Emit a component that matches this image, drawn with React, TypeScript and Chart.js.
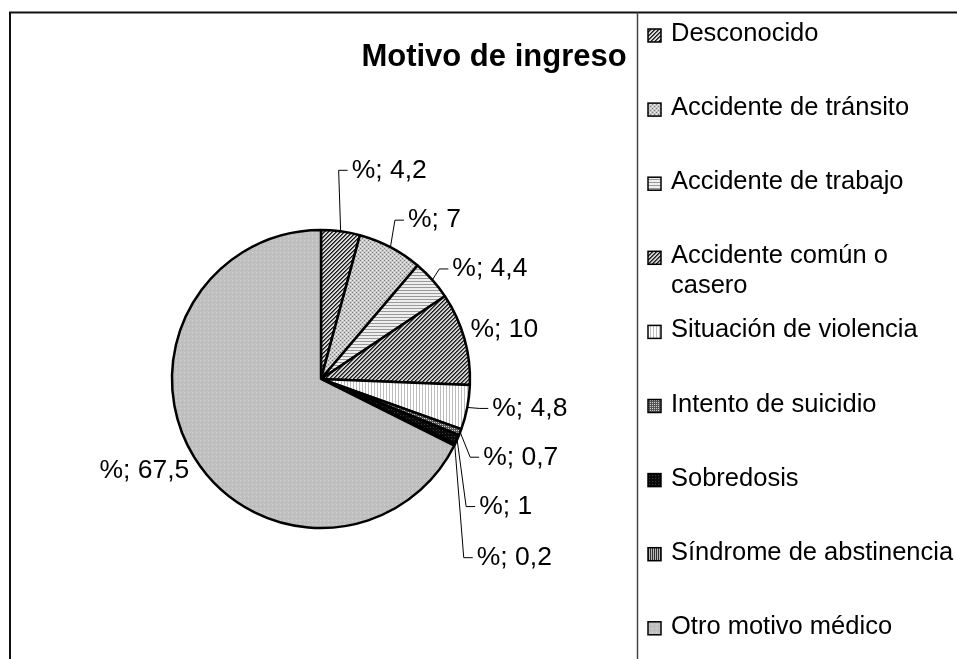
import React, { useEffect, useRef } from 'react';
import { Chart, registerables } from 'chart.js';

Chart.register(...registerables);

// ---- data ----
const TITLE = 'Motivo de ingreso';
const CATEGORIES = [
  'Desconocido',
  'Accidente de tránsito',
  'Accidente de trabajo',
  'Accidente común o casero',
  'Situación de violencia',
  'Intento de suicidio',
  'Sobredosis',
  'Síndrome de abstinencia',
  'Otro motivo médico',
];
const VALUES = [4.2, 7, 4.4, 10, 4.8, 0.7, 1, 0.2, 67.5];
const SERIES_NAME = '%';

// ---- layout / style (not data) ----
const FONT = "'Liberation Sans', Arial, Helvetica, sans-serif";
const PATTERN_KINDS = ['diag', 'dotsLight', 'hLines', 'diag2', 'vLinesLight', 'dotsDark', 'black', 'vStripes', 'gray'];
// offsets of label (x, centre y) from the slice's outer mid-point
const LABEL_OFFSETS: [number, number][] = [
  [11, -61], [17.5, -27], [20, -11], [6, -9], [25, 1], [23, 25], [22, 67], [22, 113], [-5, 13],
];
const LABEL_LEADER = [true, true, true, false, true, true, true, true, false];
const LABEL_ALIGN = ['left', 'left', 'left', 'left', 'left', 'left', 'left', 'left', 'right'];

function makePattern(kind: string): CanvasPattern | string {
  const c = document.createElement('canvas');
  const px = (ctx: CanvasRenderingContext2D, x: number, y: number, col: string) => {
    ctx.fillStyle = col;
    ctx.fillRect(x, y, 1, 1);
  };
  let ctx: CanvasRenderingContext2D;
  switch (kind) {
    case 'diag':
    case 'diag2': {
      c.width = 4; c.height = 4;
      ctx = c.getContext('2d')!;
      ctx.fillStyle = kind === 'diag' ? '#d8d8d8' : '#cfcfcf';
      ctx.fillRect(0, 0, 4, 4);
      for (let i = 0; i < 4; i++) {
        px(ctx, i, 3 - i, '#1a1a1a');
        px(ctx, i, (4 - i) % 4, '#5a5a5a');
      }
      break;
    }
    case 'dotsLight': {
      c.width = 4; c.height = 4;
      ctx = c.getContext('2d')!;
      ctx.fillStyle = '#c8c8c8';
      ctx.fillRect(0, 0, 4, 4);
      px(ctx, 0, 0, '#7a7a7a'); px(ctx, 2, 2, '#7a7a7a');
      px(ctx, 2, 0, '#f0f0f0'); px(ctx, 0, 2, '#f0f0f0');
      break;
    }
    case 'hLines': {
      c.width = 2; c.height = 3;
      ctx = c.getContext('2d')!;
      ctx.fillStyle = '#eeeeee';
      ctx.fillRect(0, 0, 2, 3);
      ctx.fillStyle = '#999999';
      ctx.fillRect(0, 2, 2, 1);
      break;
    }
    case 'vLinesLight': {
      c.width = 3; c.height = 2;
      ctx = c.getContext('2d')!;
      ctx.fillStyle = '#ffffff';
      ctx.fillRect(0, 0, 3, 2);
      ctx.fillStyle = '#bdbdbd';
      ctx.fillRect(2, 0, 1, 2);
      break;
    }
    case 'dotsDark': {
      c.width = 2; c.height = 2;
      ctx = c.getContext('2d')!;
      ctx.fillStyle = '#555';
      ctx.fillRect(0, 0, 2, 2);
      px(ctx, 0, 0, '#cfcfcf');
      break;
    }
    case 'black': {
      c.width = 3; c.height = 3;
      ctx = c.getContext('2d')!;
      ctx.fillStyle = '#0a0a0a';
      ctx.fillRect(0, 0, 3, 3);
      px(ctx, 1, 1, '#3a3a3a');
      break;
    }
    case 'vStripes': {
      c.width = 2; c.height = 2;
      ctx = c.getContext('2d')!;
      ctx.fillStyle = '#bbbbbb';
      ctx.fillRect(0, 0, 2, 2);
      ctx.fillStyle = '#333';
      ctx.fillRect(0, 0, 1, 2);
      break;
    }
    default: {
      c.width = 4; c.height = 4;
      ctx = c.getContext('2d')!;
      ctx.fillStyle = '#c0c0c0';
      ctx.fillRect(0, 0, 4, 4);
      px(ctx, 0, 0, '#d4d4d4');
      px(ctx, 2, 2, '#b2b2b2');
      break;
    }
  }
  const main = document.createElement('canvas').getContext('2d')!;
  return main.createPattern(c, 'repeat') || '#c0c0c0';
}

function fmt(v: number) {
  return String(v).replace('.', ',');
}

function wrapText(ctx: CanvasRenderingContext2D, text: string, maxW: number) {
  const words = text.split(' ');
  const lines: string[] = [];
  let cur = '';
  for (const w of words) {
    const t = cur ? cur + ' ' + w : w;
    if (ctx.measureText(t).width > maxW && cur) {
      lines.push(cur);
      cur = w;
    } else cur = t;
  }
  if (cur) lines.push(cur);
  return lines;
}

const decorPlugin = {
  id: 'decor',
  afterDraw(chart: any) {
    const ctx: CanvasRenderingContext2D = chart.ctx;
    const W = chart.width;
    const H = chart.height;
    ctx.save();

    // outer frame (top + left)
    ctx.strokeStyle = '#111';
    ctx.lineWidth = 2;
    ctx.beginPath();
    ctx.moveTo(10, H + 5);
    ctx.lineTo(10, 12.5);
    ctx.lineTo(W + 5, 12.5);
    ctx.stroke();

    // legend box left border
    ctx.strokeStyle = '#444';
    ctx.lineWidth = 1.5;
    ctx.beginPath();
    ctx.moveTo(637.5, 12.5);
    ctx.lineTo(637.5, H + 5);
    ctx.stroke();

    // title
    ctx.fillStyle = '#000';
    ctx.font = `bold 31px ${FONT}`;
    ctx.textAlign = 'center';
    ctx.textBaseline = 'middle';
    ctx.fillText(TITLE, 494, 57);

    // legend
    const bg = chart.data.datasets[0].backgroundColor;
    ctx.font = `25.5px ${FONT}`;
    ctx.textAlign = 'left';
    chart.data.labels.forEach((lab: string, i: number) => {
      const cy = 34 + i * 74.1;
      ctx.fillStyle = bg[i];
      ctx.fillRect(648, cy - 5, 13, 13);
      ctx.strokeStyle = '#000';
      ctx.lineWidth = 1.5;
      ctx.strokeRect(648, cy - 5, 13, 13);
      ctx.fillStyle = '#000';
      const lines = wrapText(ctx, lab, 288);
      lines.forEach((ln, k) => ctx.fillText(ln, 671, cy + k * 30));
    });

    // data labels with leader lines
    const meta = chart.getDatasetMeta(0);
    const vals = chart.data.datasets[0].data;
    ctx.font = `26.5px ${FONT}`;
    meta.data.forEach((arc: any, i: number) => {
      const p = arc.getProps(['x', 'y', 'startAngle', 'endAngle', 'outerRadius'], true);
      const mid = (p.startAngle + p.endAngle) / 2;
      const ex = p.x + Math.cos(mid) * p.outerRadius;
      const ey = p.y + Math.sin(mid) * p.outerRadius;
      const [dx, dy] = LABEL_OFFSETS[i];
      const tx = ex + dx;
      const ty = ey + dy;
      if (LABEL_LEADER[i]) {
        ctx.strokeStyle = '#000';
        ctx.lineWidth = 1;
        ctx.beginPath();
        ctx.moveTo(ex, ey);
        ctx.lineTo(tx - 13, ty);
        ctx.lineTo(tx - 4, ty);
        ctx.stroke();
      }
      ctx.fillStyle = '#000';
      ctx.textAlign = LABEL_ALIGN[i] as CanvasTextAlign;
      ctx.fillText(`${SERIES_NAME}; ${fmt(vals[i])}`, tx, ty);
    });

    ctx.restore();
  },
};

export default function App() {
  const ref = useRef<HTMLCanvasElement | null>(null);
  useEffect(() => {
    if (!ref.current) return;
    const patterns = PATTERN_KINDS.map(makePattern);
    const chart = new Chart(ref.current, {
      type: 'pie',
      data: {
        labels: CATEGORIES,
        datasets: [
          {
            label: SERIES_NAME,
            data: VALUES,
            backgroundColor: patterns as any,
            borderColor: '#000',
            borderWidth: 2.5,
          },
        ],
      },
      options: {
        animation: false,
        responsive: false,
        events: [],
        radius: 149,
        layout: { padding: { left: 0, right: 315, top: 99, bottom: 0 } },
        plugins: {
          legend: { display: false },
          title: { display: false },
          tooltip: { enabled: false },
        },
      } as any,
      plugins: [decorPlugin],
    });
    return () => chart.destroy();
  }, []);
  return (
    <div style={{ position: 'fixed', left: 0, top: 0, width: 957, height: 659, background: '#fff' }}>
      <canvas ref={ref} width={957} height={659} style={{ display: 'block', width: 957, height: 659 }} />
    </div>
  );
}
